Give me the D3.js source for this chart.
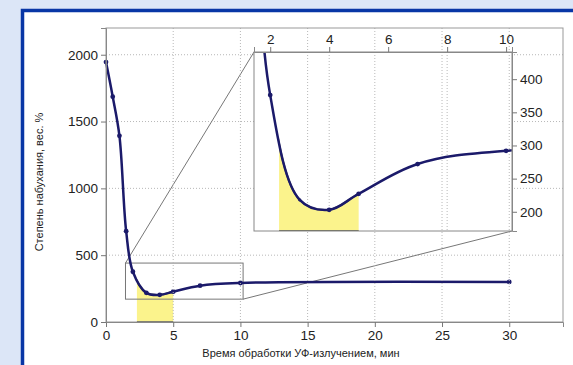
<!DOCTYPE html>
<html>
<head>
<meta charset="utf-8">
<script src="https://cdn.jsdelivr.net/npm/d3@7"></script>
<style>
body{margin:0;background:#dce6f7}
text{font-family:"Liberation Sans",Arial,sans-serif;fill:#222}
</style>
</head>
<body>
<div id="chart"></div>
<script>
// time of UV treatment, min
var times = [0,0.5,1,1.5,2,3,4,5,7,10,30]
// degree of swelling, wt. %
var swelling = [1945,1686,1393,680,376,218,203,227,272,292,300]
var fillRange = [2.3,5]
var zoomX = [1.45,10.2]
var zoomY = [171,441]

var xMajor = [0,5,10,15,20,25,30]
var xMinor = d3.range(0,35,1)
var yMajor = [0,500,1000,1500,2000]
var yMinor = d3.range(0,2300,100)
var inXMajor = [2,4,6,8,10]
var inXMinor = [3,5,7,9]
var inYMajor = [200,250,300,350,400]
var inYMinor = d3.range(180,441,10)
var inGrid = [4,8]

var pts = times.map((t,i)=>({t:t,v:swelling[i]}))
var curve = d3.curveCatmullRom.alpha(0.5)

var svg = d3.select("#chart").append("svg")
.attr("width",573).attr("height",365)

svg.append("rect").attr("width",573).attr("height",365).attr("fill","#dce6f7")
svg.append("rect")
.attr("x",22.5).attr("y",10.5).attr("width",600).attr("height",400)
.attr("fill","white").attr("stroke","#0836a6").attr("stroke-width",3.5)

var x = d3.scaleLinear().domain([0,34]).range([106,563])
var y = d3.scaleLinear().domain([0,2200]).range([322,28])
var xi = d3.scaleLinear().domain(zoomX).range([254,512])
var yi = d3.scaleLinear().domain(zoomY).range([231,52])

var defs = svg.append("defs")
defs.append("clipPath").attr("id","fillMain").append("rect")
.attr("x",x(fillRange[0])).attr("y",y(2200)).attr("width",x(fillRange[1])-x(fillRange[0])).attr("height",y(0)-y(2200))
defs.append("clipPath").attr("id","inset").append("rect")
.attr("x",xi(zoomX[0])).attr("y",yi(zoomY[1])).attr("width",xi(zoomX[1])-xi(zoomX[0])).attr("height",yi(zoomY[0])-yi(zoomY[1]))
defs.append("clipPath").attr("id","fillInset").append("rect")
.attr("x",xi(fillRange[0])).attr("y",yi(zoomY[1])).attr("width",xi(fillRange[1])-xi(fillRange[0])).attr("height",yi(zoomY[0])-yi(zoomY[1]))

// grid
svg.selectAll(".hgrid").data(yMajor.slice(1)).enter().append("line")
.attr("x1",x(0)).attr("x2",x(34)).attr("y1",d=>y(d)).attr("y2",d=>y(d))
.attr("stroke","#b8b8b8").attr("stroke-dasharray","1,2")

// main curve
var line = d3.line().x(d=>x(d.t)).y(d=>y(d.v)).curve(curve)
var area = d3.area().x(d=>x(d.t)).y0(y(0)).y1(d=>y(d.v)).curve(curve)

svg.append("path").datum(pts).attr("d",area)
.attr("clip-path","url(#fillMain)")
.attr("fill","#fbf38c").attr("stroke","#6b6b50").attr("stroke-width",2)

// zoom box + connectors
svg.append("rect")
.attr("x",x(zoomX[0])).attr("y",y(zoomY[1]))
.attr("width",x(zoomX[1])-x(zoomX[0])).attr("height",y(zoomY[0])-y(zoomY[1]))
.attr("fill","none").attr("stroke","#777").attr("stroke-width",1)
svg.append("line")
.attr("x1",x(zoomX[0])).attr("y1",y(zoomY[1])).attr("x2",xi(zoomX[0])).attr("y2",yi(zoomY[1]))
.attr("stroke","#777")
svg.append("line")
.attr("x1",x(zoomX[1])).attr("y1",y(zoomY[0])).attr("x2",xi(zoomX[1])).attr("y2",yi(zoomY[0]))
.attr("stroke","#777")

svg.append("path").datum(pts).attr("d",line)
.attr("fill","none").attr("stroke","#1b1a6a").attr("stroke-width",2.5)
svg.selectAll(".pt").data(pts).enter().append("circle")
.attr("cx",d=>x(d.t)).attr("cy",d=>y(d.v)).attr("r",2.4).attr("fill","#1b1a6a")

// inset background
svg.append("rect")
.attr("x",xi(zoomX[0])).attr("y",yi(zoomY[1]))
.attr("width",xi(zoomX[1])-xi(zoomX[0])).attr("height",yi(zoomY[0])-yi(zoomY[1]))
.attr("fill","white")

// vertical grid of main plot shows through
svg.selectAll(".vgrid").data(xMajor.slice(1)).enter().append("line")
.attr("x1",d=>x(d)).attr("x2",d=>x(d)).attr("y1",y(2200)).attr("y2",y(0))
.attr("stroke","#b8b8b8").attr("stroke-dasharray","1,2")
svg.selectAll(".igrid").data(inGrid).enter().append("line")
.attr("x1",d=>xi(d)).attr("x2",d=>xi(d)).attr("y1",yi(zoomY[1])).attr("y2",yi(zoomY[0]))
.attr("stroke","#b8b8b8").attr("stroke-dasharray","1,2")

// inset curve
var iline = d3.line().x(d=>xi(d.t)).y(d=>yi(d.v)).curve(curve)
var iarea = d3.area().x(d=>xi(d.t)).y0(yi(zoomY[0])).y1(d=>yi(d.v)).curve(curve)
var inset = svg.append("g").attr("clip-path","url(#inset)")
inset.append("g").attr("clip-path","url(#fillInset)")
.append("path").datum(pts).attr("d",iarea)
.attr("fill","#fbf38c").attr("stroke","#6b6b50").attr("stroke-width",2)
inset.append("path").datum(pts).attr("d",iline)
.attr("fill","none").attr("stroke","#1b1a6a").attr("stroke-width",2.5)
inset.selectAll(".ipt").data(pts.filter(d=>d.t>=zoomX[0]&&d.t<=zoomX[1]&&d.v<=zoomY[1])).enter().append("circle")
.attr("cx",d=>xi(d.t)).attr("cy",d=>yi(d.v)).attr("r",d=>d.t==3?1.6:2.4).attr("fill","#1b1a6a")

svg.append("rect")
.attr("x",xi(zoomX[0])).attr("y",yi(zoomY[1]))
.attr("width",xi(zoomX[1])-xi(zoomX[0])).attr("height",yi(zoomY[0])-yi(zoomY[1]))
.attr("fill","none").attr("stroke","#888")

// inset axes
var iTop = svg.append("g").attr("transform","translate(0,"+yi(zoomY[1])+")")
iTop.call(d3.axisTop(xi).tickValues(inXMinor).tickSize(3).tickFormat(""))
iTop.call(d3.axisTop(xi).tickValues(inXMajor).tickSize(5).tickFormat(d3.format("d")))
var iRight = svg.append("g").attr("transform","translate("+xi(zoomX[1])+",0)")
iRight.call(d3.axisRight(yi).tickValues(inYMinor).tickSize(3).tickFormat(""))
iRight.call(d3.axisRight(yi).tickValues(inYMajor).tickSize(5).tickFormat(d3.format("d")))

// main frame and axes
svg.append("rect")
.attr("x",x(0)).attr("y",y(2200)).attr("width",x(34)-x(0)).attr("height",y(0)-y(2200))
.attr("fill","none").attr("stroke","#999")

var gx = svg.append("g").attr("transform","translate(0,"+y(0)+")")
gx.call(d3.axisBottom(x).tickValues(xMinor).tickSize(3).tickFormat(""))
gx.call(d3.axisBottom(x).tickValues(xMajor).tickSize(5).tickFormat(d3.format("d")))
var gy = svg.append("g").attr("transform","translate("+x(0)+",0)")
gy.call(d3.axisLeft(y).tickValues(yMinor).tickSize(3).tickFormat(""))
gy.call(d3.axisLeft(y).tickValues(yMajor).tickSize(5).tickFormat(d3.format("d")))

svg.selectAll(".domain").attr("stroke","#888")
svg.selectAll(".tick line").attr("stroke","#777")
svg.selectAll(".tick text").attr("font-size",13.5).attr("fill","#1a1a1a")
.attr("font-family","'Liberation Sans',Arial,sans-serif")

svg.append("text")
.text("Время обработки УФ-излучением, мин")
.attr("x",301).attr("y",357)
.attr("text-anchor","middle")
.attr("font-size",11)
.attr("fill","#111")

svg.append("text")
.text("Степень набухания, вес. %")
.attr("transform","translate(43,182) rotate(-90)")
.attr("text-anchor","middle")
.attr("font-size",11)
.attr("fill","#111")
</script>
</body>
</html>
